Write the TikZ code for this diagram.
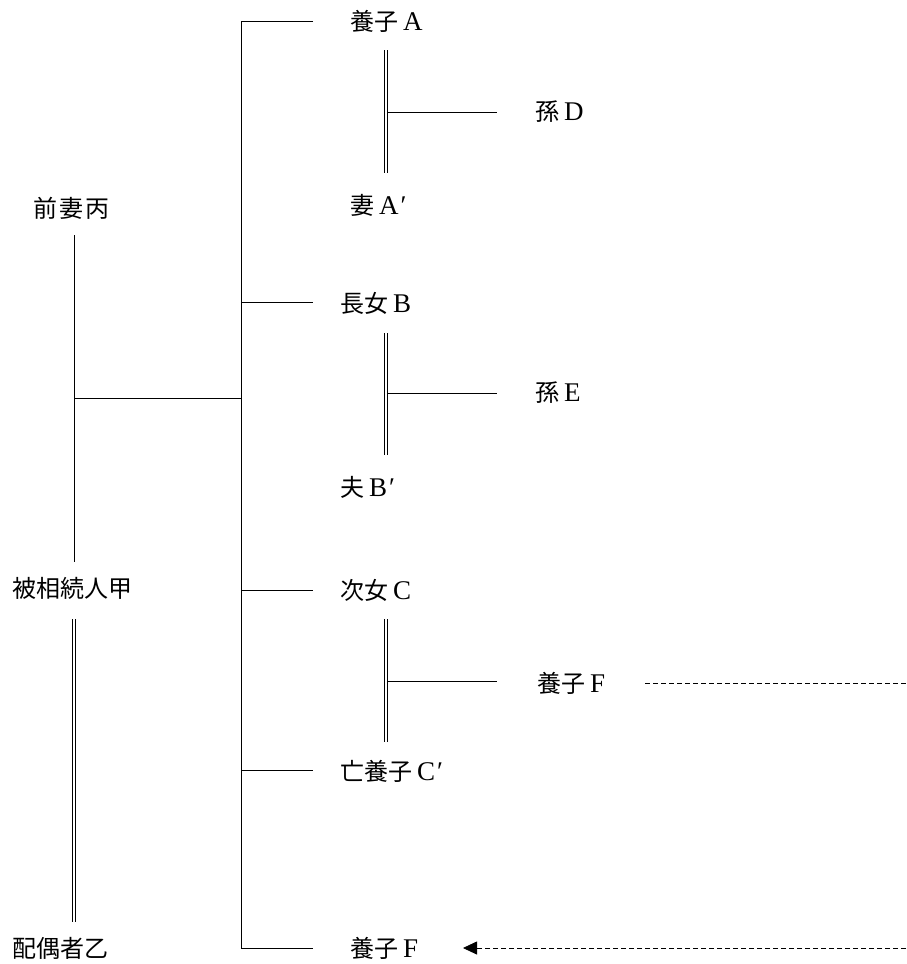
\documentclass[tikz,border=0pt]{standalone}
\usepackage{fontspec}
\setmainfont{Liberation Serif}
\newfontfamily\cjk{Noto Sans CJK JP}
\usetikzlibrary{arrows.meta}
\newcommand{\cj}[1]{{\cjk #1}}
\newcommand{\lt}[1]{\hspace{5pt}{\fontsize{27}{27}\selectfont #1}}
\newcommand{\pr}{\kern2pt{\fontsize{27}{27}\selectfont ′}}
\begin{document}
\begin{tikzpicture}[x=1pt,y=-1pt,
  lbl/.style={anchor=west,inner sep=0pt,font=\fontsize{24}{24}\selectfont},
  ln/.style={line width=0.9pt,black},
  dbl/.style={line width=0.7pt,double,double distance=2.2pt},
  dsh/.style={line width=0.8pt,dash pattern=on 5pt off 3pt}]
\useasboundingbox (0,0) rectangle (906,964);
% nodes
\node[lbl] (heishi) at (33,208) {\cj{前\kern2pt 妻\kern2pt 丙}};
\node[lbl] (ko) at (12,588) {\cj{被相続人甲}};
\node[lbl] (otsu) at (12,948) {\cj{配偶者乙}};
\node[lbl] (A) at (350,21) {\cj{養子}\lt{A}};
\node[lbl] (A2) at (350,205) {\cj{妻}\lt{A}\pr};
\node[lbl] (D) at (535,112) {\cj{孫}\lt{D}};
\node[lbl] (B) at (340,303) {\cj{長女}\lt{B}};
\node[lbl] (B2) at (340,487) {\cj{夫}\lt{B}\pr};
\node[lbl] (E) at (535,393) {\cj{孫}\lt{E}};
\node[lbl] (C) at (340,590) {\cj{次女}\lt{C}};
\node[lbl] (C2) at (340,771) {\cj{亡養子}\lt{C}\pr};
\node[lbl] (F1) at (537,683) {\cj{養子}\lt{F}};
\node[lbl] (F2) at (350,948) {\cj{養子}\lt{F}};
% coordinates
\coordinate (bt) at (241,21);
\coordinate (bb) at (241,948);
\coordinate (pj) at (74,398);
\coordinate (bj) at (241,398);
\coordinate (f1e) at (906,683);
\coordinate (f2e) at (906,948);
% parents of children
\draw[ln] (74,235) -- (74,562);
\draw[ln] (pj) -- (bj);
\draw[dbl] (74,619) -- (74,922);
% bus
\draw[ln] (313,21) -- (bt) -- (bb) -- (313,948);
\foreach \y in {302,590,770} \draw[ln] (241,\y) -- (313,\y);
% couples
\draw[dbl] (386,50) -- (386,173);
\draw[ln] (388,112) -- (497,112);
\draw[dbl] (386,333) -- (386,455);
\draw[ln] (388,393) -- (497,393);
\draw[dbl] (386,619) -- (386,742);
\draw[ln] (388,681) -- (497,681);
% dashed
\draw[dsh] (645,683) -- (f1e);
\draw[dsh,-{Triangle[length=14pt,width=13pt]}] (f2e) -- (463,948);
\end{tikzpicture}
\end{document}
